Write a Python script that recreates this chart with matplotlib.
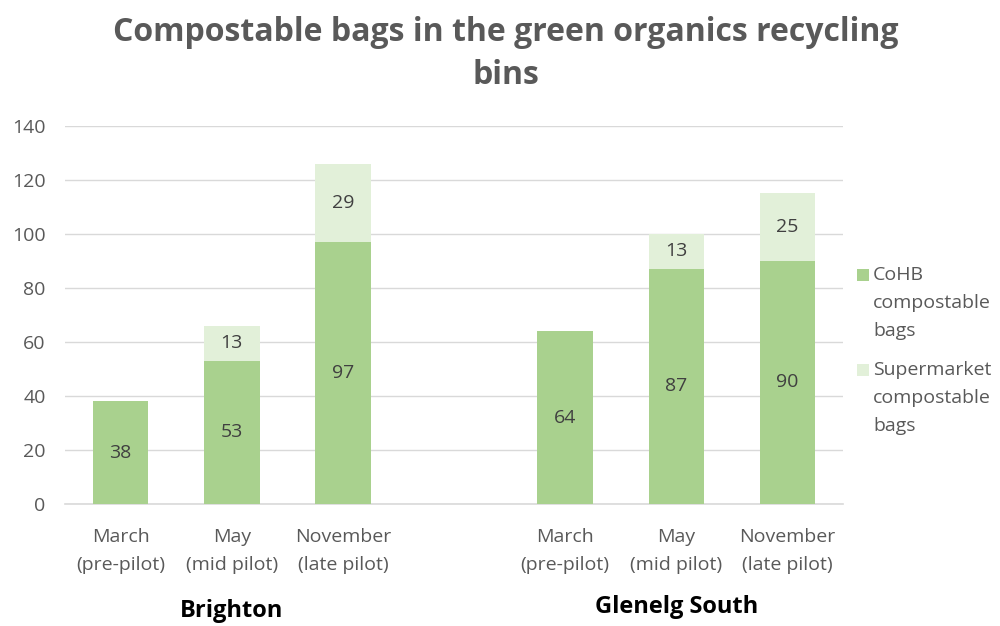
import numpy as np
import matplotlib
matplotlib.use("Agg")
import matplotlib.pyplot as plt
from matplotlib.patches import Rectangle

plt.rcParams['font.family'] = ['Open Sans', 'DejaVu Sans']

groups = ["Brighton", "Glenelg South"]
periods = ["March\n(pre-pilot)", "May\n(mid pilot)", "November\n(late pilot)"]
cohb = [38, 53, 97, 64, 87, 90]
supermarket = [0, 13, 29, 0, 13, 25]
series_names = ["CoHB\ncompostable\nbags", "Supermarket\ncompostable\nbags"]
title = "Compostable bags in the green organics recycling\nbins"

c_cohb = "#A9D18E"
c_super = "#E2F0D9"
text_gray = "#595959"
grid_gray = "#D9D9D9"

# Bar slots: three per group, one empty slot between groups
positions = [0, 1, 2, 4, 5, 6]
tick_labels = periods + periods

W, H = 1000, 626
fig = plt.figure(figsize=(W / 100, H / 100), dpi=100)
ax = fig.add_axes([0.065, 0.195, 0.778, 0.604])

ax.bar(positions, cohb, width=0.5, color=c_cohb, zorder=3)
ax.bar(positions, supermarket, width=0.5, bottom=cohb, color=c_super, zorder=3)

for x, v in zip(positions, cohb):
    ax.text(x, v / 2, str(v), ha="center", va="center", fontsize=14,
            color="#404040", zorder=4)
for x, base, v in zip(positions, cohb, supermarket):
    if v:
        ax.text(x, base + v / 2, str(v), ha="center", va="center", fontsize=14,
                color="#404040", zorder=4)

ax.set_xlim(-0.5, 6.5)
ax.set_ylim(0, 140)
ax.set_yticks(range(0, 141, 20))
ax.yaxis.grid(True, color=grid_gray, linewidth=1, zorder=0)
ax.set_axisbelow(True)
for s in ["top", "right", "left"]:
    ax.spines[s].set_visible(False)
ax.spines["bottom"].set_color(grid_gray)
ax.spines["bottom"].set_linewidth(1.2)
ax.tick_params(axis="both", length=0, labelsize=14, colors=text_gray)
ax.tick_params(axis="y", pad=14)
ax.tick_params(axis="x", pad=17)
ax.set_xticks(positions)
ax.set_xticklabels(tick_labels, linespacing=1.75)

# Group names beneath the category labels
ax.text(1, -39.6, groups[0], ha="center", va="center", fontsize=17,
        fontweight="bold", color="black")
ax.text(5, -38.1, groups[1], ha="center", va="center", fontsize=17,
        fontweight="bold", color="black")

fig.text(0.506, 1 - 54 / H, title, ha="center", va="center", fontsize=23,
         fontweight="bold", color=text_gray, linespacing=1.4)

# Legend: swatch aligned with the first line of each wrapped label
legend_tops = [275, 370]
for name, col, yc in zip(series_names, [c_cohb, c_super], legend_tops):
    fig.patches.append(Rectangle((857 / W, 1 - (yc + 6) / H), 12 / W, 12 / H,
                                 transform=fig.transFigure, facecolor=col,
                                 edgecolor="none"))
    fig.text(873 / W, 1 - (yc - 9) / H, name, ha="left", va="top",
             fontsize=14, color=text_gray, linespacing=1.72)

fig.savefig("out.png", dpi=100)
